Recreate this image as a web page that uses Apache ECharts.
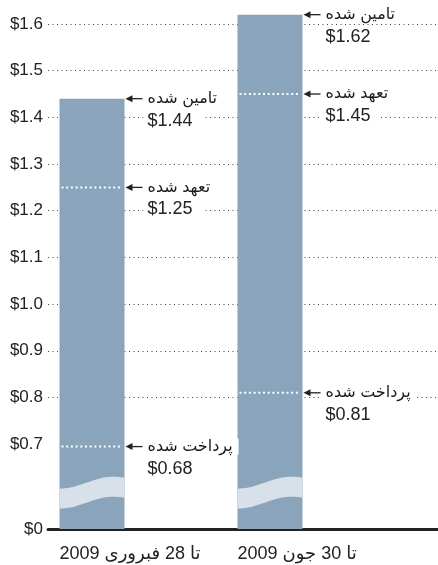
<!DOCTYPE html>
<html>
<head>
<meta charset="utf-8">
<script src="https://cdn.jsdelivr.net/npm/echarts@6.0.0/dist/echarts.min.js"></script>
<style>
  html, body { margin: 0; padding: 0; background: #fff; }
  #chart { width: 438px; height: 565px; }
</style>
</head>
<body>
<div id="chart"></div>
<script>
// دوره ها (تا تاریخ)
const periods = ['تا 28 فبروری 2009', 'تا 30 جون 2009'];
const stages = ['تامین شده', 'تعهد شده', 'پرداخت شده'];
// ارقام به میلیارد دالر
const funded = [1.44, 1.62];
const committed = [1.25, 1.45];
const paid = [0.68, 0.81];
// محور عمودی بعد از وقفه
const yBreak = [0, 0.7];
const waveLevel = 0.3; // جای موج داخل وقفه

const FONT = '"Liberation Sans", "DejaVu Sans", Arial, sans-serif';
const BAR_W = 65;
const BAR_COLOR = '#8aa4bb';

const notes = [];
periods.forEach((p, i) => {
  [funded, committed, paid].forEach((arr, s) => notes.push([i, arr[i], s]));
});

const chart = echarts.init(document.getElementById('chart'));

chart.setOption({
  animation: false,
  grid: { left: 48, right: 0, top: 24, bottom: 36 },
  xAxis: {
    type: 'value',
    min: -0.2472,
    max: 1.9438,
    axisLine: { show: true, lineStyle: { color: '#222', width: 3 } },
    axisTick: { show: false },
    axisLabel: { show: false },
    splitLine: { show: false }
  },
  yAxis: {
    type: 'value',
    min: 0,
    max: 1.6,
    interval: 0.1,
    breaks: [{ start: yBreak[0], end: yBreak[1], gap: '16.8%' }],
    breakArea: { show: false, itemStyle: { opacity: 0 } },
    axisLine: { show: false },
    axisTick: { show: false },
    axisLabel: {
      margin: 5,
      color: '#222',
      fontSize: 17,
      fontFamily: FONT,
      formatter: v => (v === 0 ? '$0' : '$' + v.toFixed(1))
    },
    splitLine: {
      show: true,
      lineStyle: { color: '#444', width: 1, type: [1, 3.5] }
    }
  },
  series: [
    {
      type: 'bar',
      data: periods.map((p, i) => [i, funded[i]]),
      barWidth: BAR_W,
      clip: false,
      itemStyle: { color: BAR_COLOR },
      silent: true,
      z: 2
    },
    {
      // موج وقفه روی ستون ها
      type: 'custom',
      data: periods.map((p, i) => [i, waveLevel]),
      encode: { x: 0, y: 1 },
      silent: true,
      z: 3,
      renderItem(params, api) {
        const c = api.coord([api.value(0), api.value(1)]);
        const left = c[0] - BAR_W / 2;
        const top = [], bottom = [];
        for (let k = 0; k <= 24; k++) {
          const t = k / 24;
          const x = left + t * BAR_W;
          const y = c[1] + 6 * Math.cos(Math.PI * 1.2 * t);
          top.push([x, y - 10]);
          bottom.unshift([x, y + 10]);
        }
        return {
          type: 'polygon',
          shape: { points: top.concat(bottom) },
          style: { fill: '#d8e1e9' }
        };
      }
    },
    {
      // یادداشت ها
      type: 'custom',
      data: notes,
      encode: { x: 0, y: 1 },
      silent: true,
      z: 4,
      renderItem(params, api) {
        const i = api.value(0), v = api.value(1), s = api.value(2);
        const p = api.coord([i, v]);
        const right = p[0] + BAR_W / 2;
        const y = p[1];
        const kids = [];
        if (s > 0) {
          kids.push({
            type: 'line',
            shape: { x1: p[0] - BAR_W / 2 + 2, y1: y, x2: right - 2, y2: y },
            style: { stroke: '#fff', lineWidth: 2, lineDash: [2, 2.7] }
          });
        }
        kids.push({
          type: 'text',
          x: right + 19,
          y: y,
          style: {
            text: stages[s],
            fill: '#1a1a1a',
            font: '16px ' + FONT,
            align: 'left',
            verticalAlign: 'middle',
            backgroundColor: '#fff',
            padding: [0, 6, 0, 4]
          }
        });
        kids.push({
          type: 'text',
          x: right + 19,
          y: y + 22,
          style: {
            text: '$' + v.toFixed(2),
            fill: '#222',
            font: '18px ' + FONT,
            align: 'left',
            verticalAlign: 'middle',
            backgroundColor: '#fff',
            padding: [1, 10, 1, 4]
          }
        });
        kids.push({
          type: 'line',
          shape: { x1: right + 4, y1: y, x2: right + 18, y2: y },
          style: { stroke: '#222', lineWidth: 1.3 }
        });
        kids.push({
          type: 'polygon',
          shape: { points: [[right + 1, y], [right + 8, y - 3.5], [right + 8, y + 3.5]] },
          style: { fill: '#222' }
        });
        return { type: 'group', children: kids };
      }
    },
    {
      // برچسب دوره ها
      type: 'custom',
      data: periods.map((p, i) => [i, 0]),
      encode: { x: 0, y: 1 },
      silent: true,
      z: 4,
      renderItem(params, api) {
        const i = api.value(0);
        const p = api.coord([i, 0]);
        return {
          type: 'text',
          x: p[0] - BAR_W / 2,
          y: p[1] + 25,
          style: {
            text: periods[i],
            fill: '#222',
            font: '18px ' + FONT,
            align: 'left',
            verticalAlign: 'middle'
          }
        };
      }
    }
  ]
});
</script>
</body>
</html>
